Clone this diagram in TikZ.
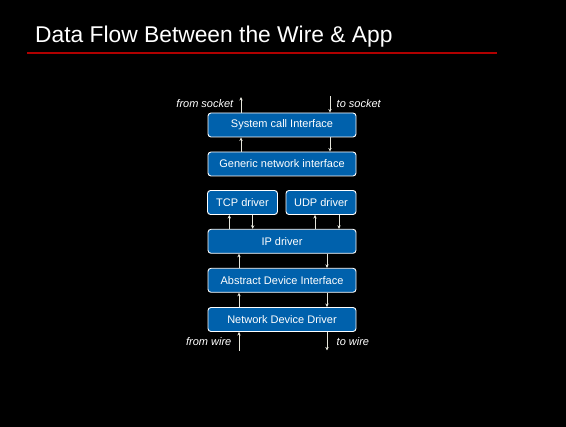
\documentclass[tikz,border=0pt]{standalone}
\usepackage{fontspec}
\setmainfont{Liberation Sans}
\usetikzlibrary{arrows.meta,calc}
\definecolor{layerblue}{HTML}{0061AC}
\definecolor{flowgray}{HTML}{E6E6DC}
\definecolor{rulered}{HTML}{B00000}
\begin{document}
\begin{tikzpicture}[x=1pt,y=-1pt,
  layer/.style={draw=white,line width=0.9pt,fill=layerblue,rounded corners=3pt,
    minimum height=24pt,inner sep=0pt,text=white,font=\fontsize{11}{12}\selectfont},
  wide/.style={layer,minimum width=148pt},
  narrow/.style={layer,minimum width=70pt},
  flow/.style={draw=flowgray,line width=0.75pt,-{Stealth[length=3.6pt,width=3.4pt]}},
  side/.style={text=white,font=\fontsize{11}{12}\selectfont\itshape,inner sep=2pt}]
  % page
  \fill[black] (0,0) rectangle (566,427);
  \useasboundingbox (0,0) rectangle (566,427);

  % heading
  \node[anchor=base west,inner sep=0pt,text=white,font=\fontsize{22.8}{26}\selectfont]
    (title) at (35,42.5) {Data Flow Between the Wire \& App};
  \draw[rulered,line width=1.5pt] (27,53) coordinate (r1) -- (497,53) coordinate (r2);

  % protocol layers
  \node[wide]   (sys) at (282,125)   {System call Interface};
  \node[wide]   (gen) at (282,164)   {Generic network interface};
  \node[narrow] (tcp) at (242.5,202.5) {TCP driver};
  \node[narrow] (udp) at (321,202.5) {UDP driver};
  \node[wide]   (ip)  at (282,241.3) {IP driver};
  \node[wide]   (adi) at (282,280.3) {Abstract Device Interface};
  \node[wide]   (ndd) at (282,319.5) {Network Device Driver};

  % columns of the up / down paths
  \coordinate (cU) at (241,0);
  \coordinate (cD) at (330,0);
  \coordinate (lU) at (239,0);
  \coordinate (lD) at (327,0);
  \coordinate (tU) at (229.3,0);
  \coordinate (tD) at (252.7,0);
  \coordinate (uU) at (315,0);
  \coordinate (uD) at (339,0);

  % socket side
  \coordinate (sockin)  at (241,97);
  \coordinate (sockout) at (330,96.5);
  \draw[flow] (sys.north -| cU) -- (sockin);
  \draw[flow] (sockout) -- (sys.north -| cD);
  \node[side,anchor=east] (fs) at (235.5,103.5) {from socket};
  \node[side,anchor=west] (ts) at (334.5,103.5) {to socket};

  % system call <-> generic
  \draw[flow] (gen.north -| cU) -- (sys.south -| cU);
  \draw[flow] (sys.south -| cD) -- (gen.north -| cD);

  % transport drivers <-> IP
  \draw[flow] (ip.north -| tU) -- (tcp.south -| tU);
  \draw[flow] (tcp.south -| tD) -- (ip.north -| tD);
  \draw[flow] (ip.north -| uU) -- (udp.south -| uU);
  \draw[flow] (udp.south -| uD) -- (ip.north -| uD);

  % IP <-> device layers
  \draw[flow] (adi.north -| lU) -- (ip.south -| lU);
  \draw[flow] (ip.south -| lD) -- (adi.north -| lD);
  \draw[flow] (ndd.north -| lU) -- (adi.south -| lU);
  \draw[flow] (adi.south -| lD) -- (ndd.north -| lD);

  % wire side
  \coordinate (wirein)  at (239,351);
  \coordinate (wireout) at (327,350.5);
  \draw[flow] (wirein) -- (ndd.south -| lU);
  \draw[flow] (ndd.south -| lD) -- (wireout);
  \node[side,anchor=east] (fw) at (233.5,342) {from wire};
  \node[side,anchor=west] (tw) at (334.5,342) {to wire};
\end{tikzpicture}
\end{document}
